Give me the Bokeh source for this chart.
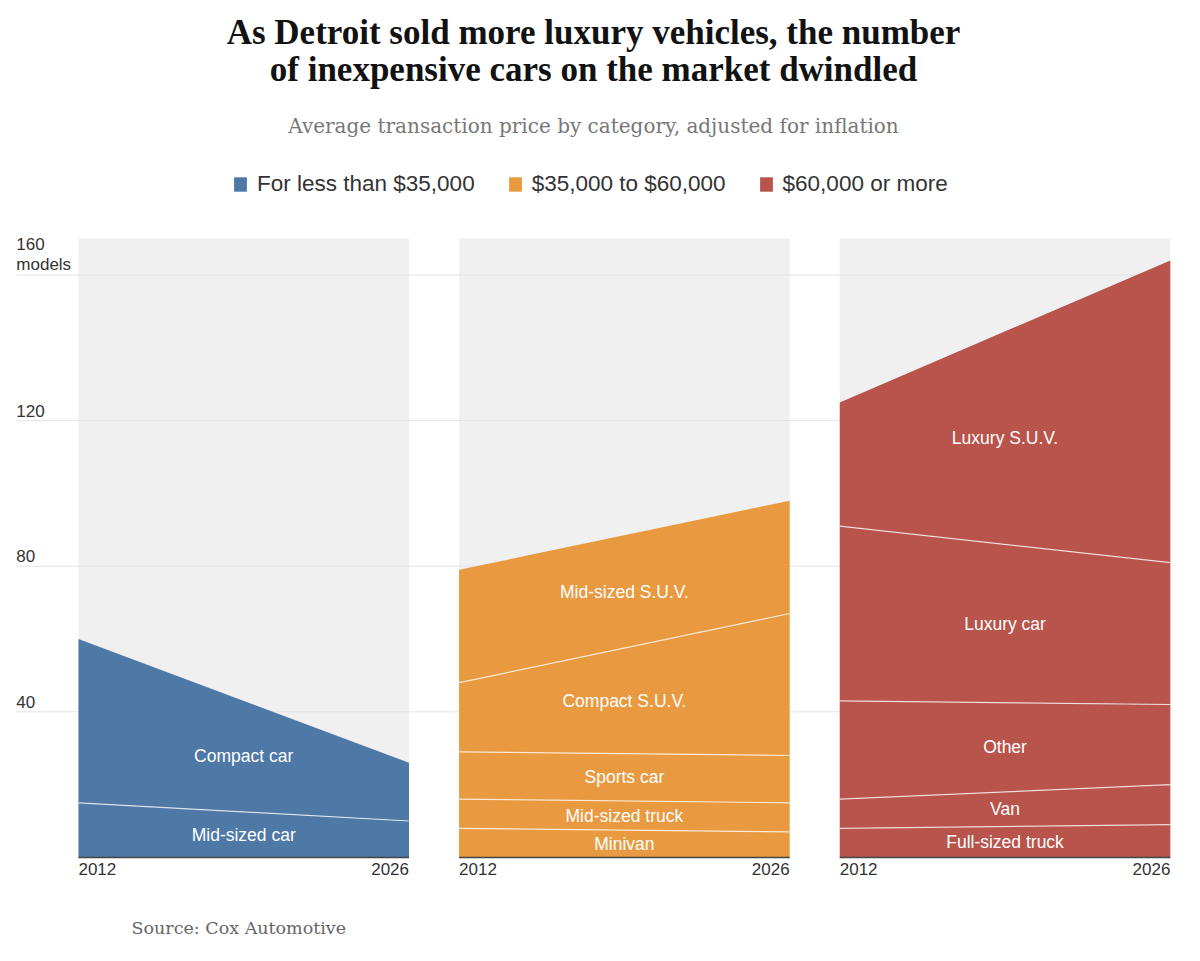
import numpy as np
from bokeh.plotting import figure
from bokeh.core.properties import value
from bokeh.models import ColumnDataSource, Label, Legend, LegendItem, Range1d
from bokeh.embed import file_html
from bokeh.resources import INLINE

# data (number of models)
years = [2012, 2026]

price_groups = ["For less than $35,000", "$35,000 to $60,000", "$60,000 or more"]
group_colors = ["#4e78a6", "#e9993f", "#b8544b"]

cheap_names = ["Mid-sized car", "Compact car"]
cheap_counts = [[15, 10], [45, 16]]

mid_names = ["Minivan", "Mid-sized truck", "Sports car", "Compact S.U.V.", "Mid-sized S.U.V."]
mid_counts = [[8, 7], [8, 8], [13, 13], [19, 39], [31, 31]]

lux_names = ["Full-sized truck", "Van", "Other", "Luxury car", "Luxury S.U.V."]
lux_counts = [[8, 9], [8, 11], [27, 22], [48, 39], [34, 83]]

y_ticks = [40, 80, 120, 160]

panels = [(cheap_names, cheap_counts), (mid_names, mid_counts), (lux_names, lux_counts)]

SANS = "Liberation Sans"
SERIF = "DejaVu Serif"
W, H = 1184, 945
STEP = 16.12        # panel spacing in years
PANEL_TOP = 170     # top of the grey panels, in models
GRID_LEFT = 2009.37 # gridlines start left of the first panel

# the plot frame fills the whole canvas so that titles and labels are not clipped
p = figure(width=W, height=H,
           x_range=Range1d(2008.70, 2058.84),
           y_range=Range1d(-24.2, 235.4),
           x_axis_location=None, y_axis_location=None,
           toolbar_location=None, output_backend="svg",
           min_border=0, outline_line_color=None,
           background_fill_color="white", border_fill_color="white")
p.xgrid.visible = False
p.ygrid.visible = False

# grey panel backgrounds
offsets = [i * STEP for i in range(len(panels))]
p.quad(left=[years[0] + o for o in offsets], right=[years[1] + o for o in offsets],
       bottom=0, top=PANEL_TOP, fill_color="#f0f0f0", line_color=None)

# gridlines across the whole width
p.segment(x0=GRID_LEFT, x1=years[1] + offsets[-1], y0=y_ticks, y1=y_ticks,
          line_color="#e3e3e3", line_width=1)

legend_items = []
for i, (names, counts) in enumerate(panels):
    off = offsets[i]
    xs = np.array(years) + off
    arr = np.array(counts, dtype=float)
    tops = np.cumsum(arr, axis=0)
    bottoms = tops - arr
    first = None
    for j in range(len(names)):
        r = p.varea(x=xs, y1=bottoms[j], y2=tops[j], fill_color=group_colors[i])
        if first is None:
            first = r
    for j in range(len(names) - 1):
        p.line(xs, tops[j], line_color="white", line_alpha=0.75, line_width=1.2)
    legend_items.append(LegendItem(label=price_groups[i], renderers=[first]))

    # category labels in the middle of each band
    mids = (bottoms + tops) / 2
    src = ColumnDataSource(dict(x=[xs.mean()] * len(names), y=mids.mean(axis=1), t=names))
    p.text(x="x", y="y", text="t", source=src, text_align="center",
           text_baseline="middle", text_color="white", text_font=value(SANS),
           text_font_size="17.5px")

    # panel base line
    p.segment(x0=xs[0], x1=xs[1], y0=0, y1=0, line_color="#444444", line_width=1.5)

    # year labels
    p.add_layout(Label(x=xs[0], y=0, text=str(years[0]), text_align="left",
                       text_baseline="alphabetic", y_offset=-12, text_font=SANS,
                       text_font_size="17px", text_color="#333333"))
    p.add_layout(Label(x=xs[1], y=0, text=str(years[1]), text_align="right",
                       text_baseline="alphabetic", y_offset=-12, text_font=SANS,
                       text_font_size="17px", text_color="#333333"))

# y tick labels sit above their gridlines
for t in y_ticks:
    lift = 31 if t == y_ticks[-1] else 10
    p.add_layout(Label(x=GRID_LEFT, y=t, text=str(t), text_align="left",
                       text_baseline="alphabetic", y_offset=lift, text_font=SANS,
                       text_font_size="17px", text_color="#333333"))
p.add_layout(Label(x=GRID_LEFT, y=y_ticks[-1], text="models", text_align="left",
                   text_baseline="alphabetic", y_offset=10, text_font=SANS,
                   text_font_size="17px", text_color="#333333"))

legend = Legend(items=legend_items, location=(232, 748), orientation="horizontal",
                glyph_width=16, glyph_height=18, label_standoff=9, spacing=32,
                padding=0, margin=0, border_line_color=None, background_fill_alpha=0,
                label_text_font=SANS, label_text_font_size="22.5px",
                label_text_color="#333333")
p.add_layout(legend)

# titles and source
center_x = 593
p.add_layout(Label(x=center_x, y=913, x_units="screen", y_units="screen",
                   text="As Detroit sold more luxury vehicles, the number",
                   text_align="center", text_baseline="alphabetic",
                   text_font="Liberation Serif", text_font_style="bold",
                   text_font_size="35px", text_color="#121212"))
p.add_layout(Label(x=center_x, y=876, x_units="screen", y_units="screen",
                   text="of inexpensive cars on the market dwindled",
                   text_align="center", text_baseline="alphabetic",
                   text_font="Liberation Serif", text_font_style="bold",
                   text_font_size="35px", text_color="#121212"))
p.add_layout(Label(x=center_x, y=820, x_units="screen", y_units="screen",
                   text="Average transaction price by category, adjusted for inflation",
                   text_align="center", text_baseline="alphabetic",
                   text_font=SERIF, text_font_size="20px", text_color="#777777"))
p.add_layout(Label(x=131, y=18, x_units="screen", y_units="screen",
                   text="Source: Cox Automotive", text_align="left",
                   text_baseline="alphabetic", text_font=SERIF,
                   text_font_size="17.5px", text_color="#666666"))

open("out.html", "w").write(file_html(p, INLINE))
